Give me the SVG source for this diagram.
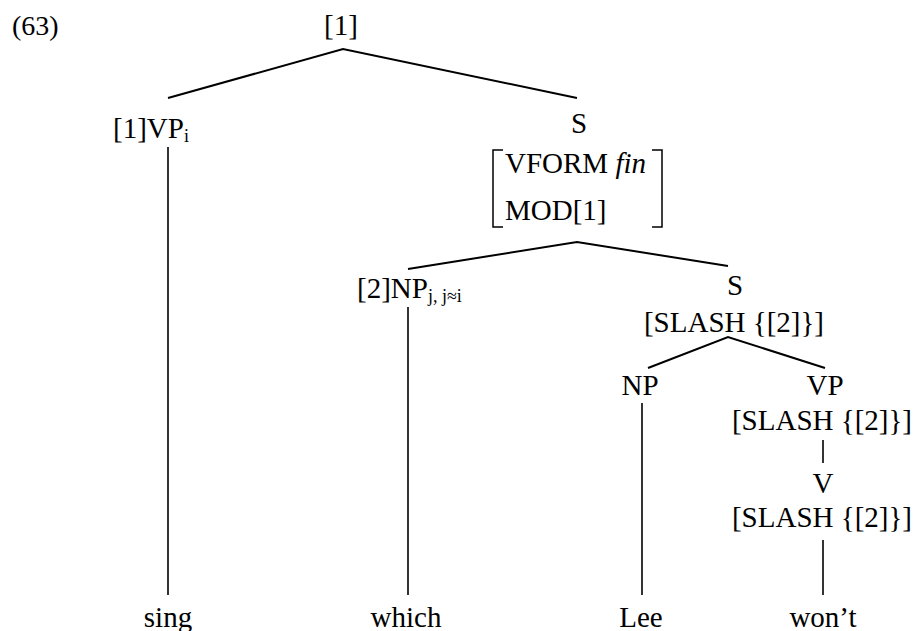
<svg xmlns="http://www.w3.org/2000/svg" width="917" height="631" viewBox="0 0 917 631">
<style>
text { font-family: 'Liberation Serif', 'Times New Roman', Times, 'DejaVu Serif', serif; font-size: 29px; fill: #000; }
.c { text-anchor: middle; }
.sub { font-size: 18px; }
.it { font-style: italic; }
.edge { stroke: #000; stroke-width: 2; fill: none; }
.vert { stroke: #000; stroke-width: 1.6; fill: none; }
.br { stroke: #000; stroke-width: 1.5; fill: none; }
</style>
<rect width="917" height="631" fill="#fff"/>
<text x="12" y="35" style="font-size:28px">(63)</text>
<g id="connectors">
  <path class="edge" d="M168,98 L343,49 L577,98"/>
  <path class="edge" d="M408,269 L577,242 L728,266"/>
  <path class="edge" d="M648,368 L728,337 L825,368"/>
  <path class="vert" d="M168,147 V595"/>
  <path class="vert" d="M408,307 V595"/>
  <path class="vert" d="M642,403 V595"/>
  <path class="vert" d="M823,440 V463"/>
  <path class="vert" d="M823,540 V595"/>
</g>
<g id="root"><text class="c" x="341" y="35">[1]</text></g>
<g id="vp1"><text x="113" y="138">[1]VP<tspan class="sub" dy="4">i</tspan></text></g>
<g id="s1">
  <text class="c" x="579" y="133">S</text>
  <path class="br" d="M503,150 H493 V227 H503 M652,150 H662 V227 H652"/>
  <text x="505" y="173">VFORM <tspan class="it">fin</tspan></text>
  <text x="505" y="220">MOD[1]</text>
</g>
<g id="np1"><text x="357" y="298">[2]NP<tspan class="sub" dy="4">j, j≈i</tspan></text></g>
<g id="s2">
  <text class="c" x="735" y="295">S</text>
  <text class="c" x="734" y="332">[SLASH {[2]}]</text>
</g>
<g id="np2"><text class="c" x="640" y="395">NP</text></g>
<g id="vp2">
  <text class="c" x="825" y="395">VP</text>
  <text class="c" x="822" y="430">[SLASH {[2]}]</text>
</g>
<g id="v">
  <text class="c" x="823" y="493">V</text>
  <text class="c" x="822" y="527">[SLASH {[2]}]</text>
</g>
<g id="sing"><text class="c" x="168" y="627">sing</text></g>
<g id="which"><text class="c" x="406" y="627">which</text></g>
<g id="lee"><text class="c" x="641" y="627">Lee</text></g>
<g id="wont"><text class="c" x="823" y="627">won’t</text></g>
</svg>
